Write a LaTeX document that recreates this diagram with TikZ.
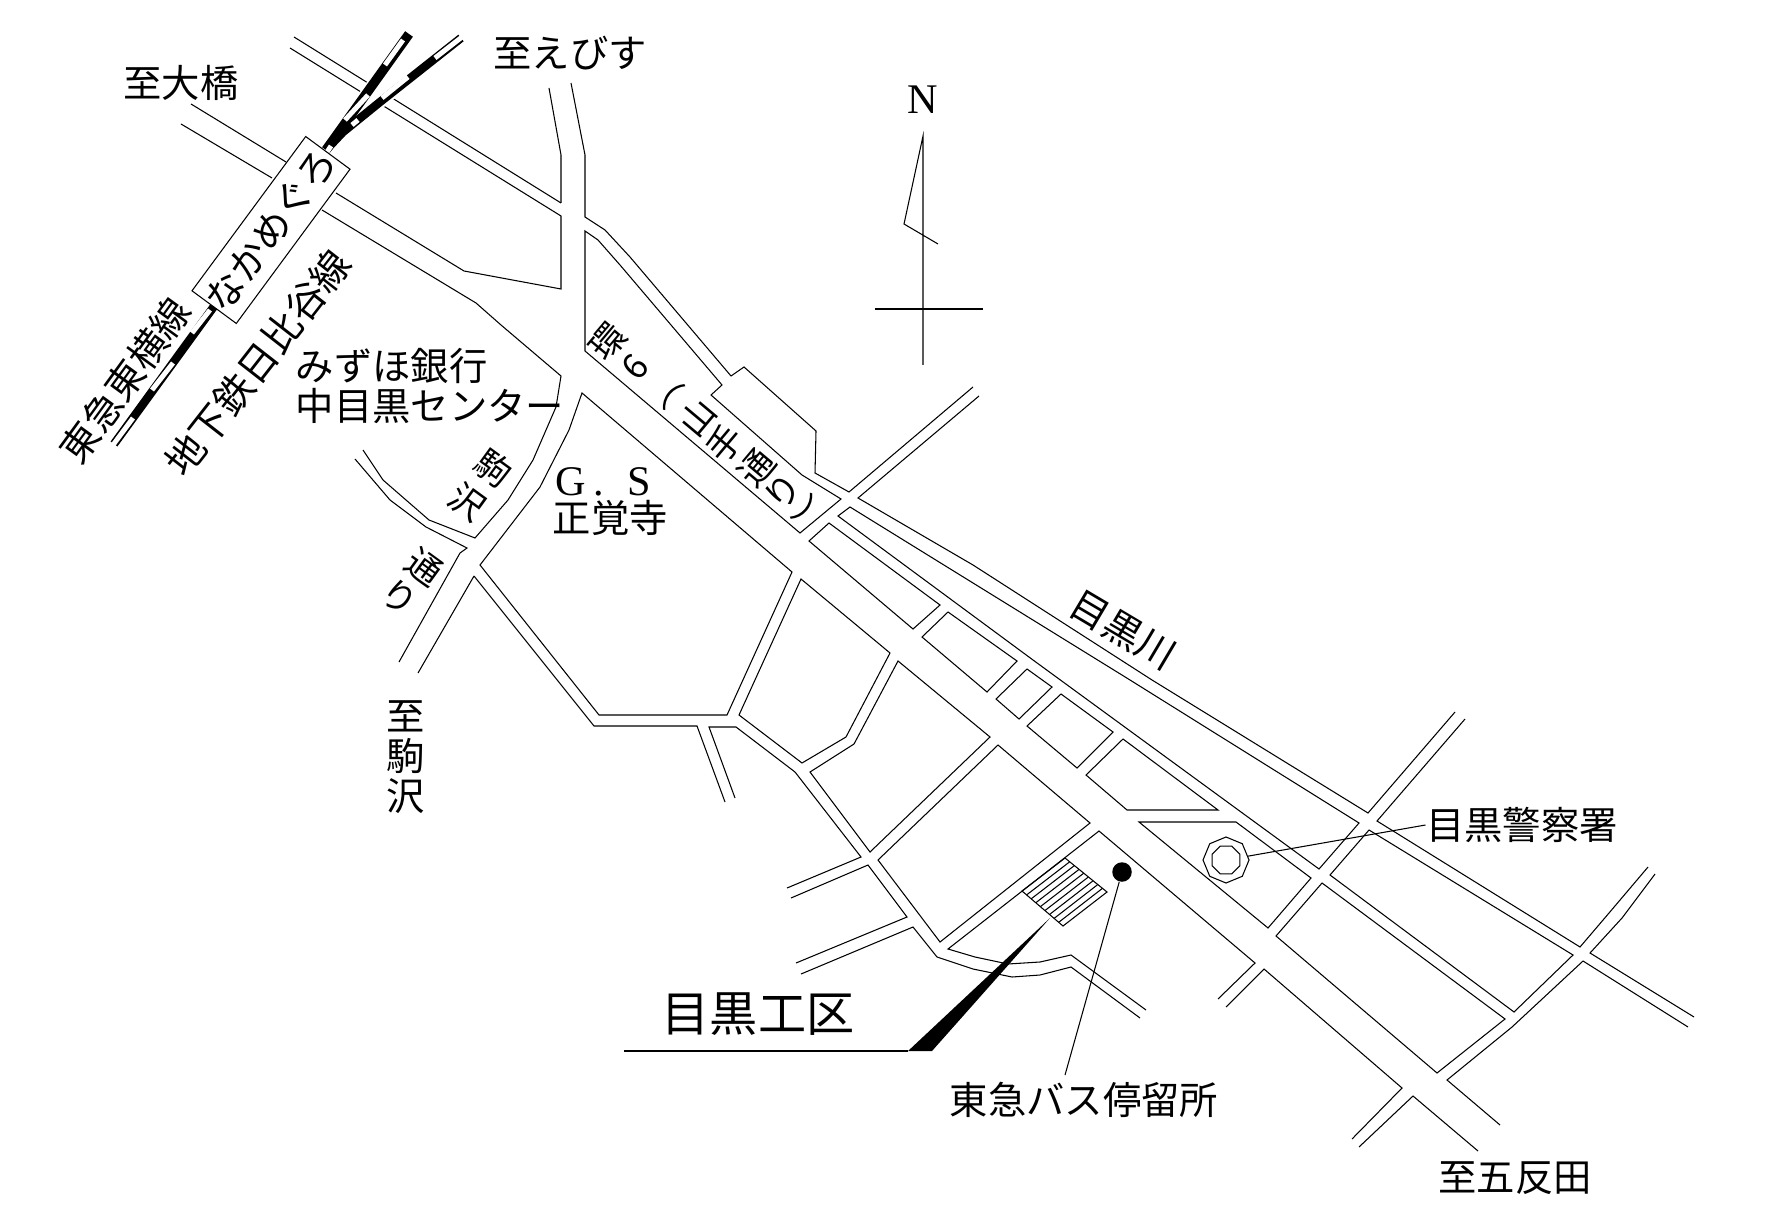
\documentclass[tikz,border=0pt]{standalone}
\usepackage{fontspec}
\usetikzlibrary{shapes.geometric}
\setmainfont{Liberation Serif}
\newfontfamily\cjk{Noto Sans CJK JP}
\def\jp{\cjk\fontsize{10.9pt}{11.3pt}\selectfont}
\def\tokyuline{(215,305) -- (114,444)}
\def\leftrail{(326,150) -- (409,34)}
\def\rightrail{(326,150) -- (343,132) -- (380,102) -- (461,38)}
\begin{document}
\begin{tikzpicture}[x=0.01cm,y=-0.01cm,
  road/.style={line width=0.3pt,line join=miter},
  label/.style={inner sep=0pt,font=\jp},
  vchar/.style={inner sep=0pt,font=\cjk\fontsize{10pt}{11pt}\selectfont},
  railbed/.style={white,line width=3.6pt},
  railedge/.style={black,line width=2.4pt},
  railslot/.style={white,line width=1.4pt}]
\useasboundingbox (0,0) rectangle (1777,1231);

% north arrow
\draw[road] (875,309) -- (983,309);
\draw[road] (923,365) -- (923,136) -- (904,224) -- (938,244);
\node[inner sep=0pt,font=\fontsize{12pt}{13pt}\selectfont] (north) at (923,100) {N};

% roads, upper left
\draw[road] (294,37) -- (561,203);
\draw[road] (549,88) -- (561,155) -- (561,203);
\draw[road] (290,48) -- (561,216) -- (561,289) -- (464,271) -- (336,193);
\draw[road] (191,104) -- (286,162);
\draw[road] (181,124) -- (272,178);
\draw[road] (322,210) -- (476,303) -- (501,325) -- (561,376) -- (556,407) -- (533,460) -- (508,500) -- (475,538) -- (429,520) -- (383,480) -- (363,450);
\draw[road] (355,459) -- (390,500) -- (426,527) -- (467,548) -- (460,553) -- (399,662);
\draw[road] (474,576) -- (418,673);
\draw[road] (582,393) -- (569,430) -- (540,487) -- (480,565) -- (599,715) -- (727,715) -- (792,572) -- cycle;

% yamate dori and the river road
\draw[road] (585,231) -- (585,351) -- (800,533) -- (841,499) -- (802,475) -- (711,395) -- (722,385) -- (620,265) -- (598,240) -- cycle;
\draw[road] (571,83) -- (585,155) -- (585,217) -- (605,230) -- (630,257) -- (731,376) -- (744,367) -- (816,431) -- (815,473) -- (849,492) -- (973,387);
\draw[road] (979,396) -- (858,498) -- (973,565) -- (1152,680) -- (1368,813) -- (1455,712);
\draw[road] (850,507) -- (838,516) -- (1033,660) -- (1319,869) -- (1359,823) -- (1130,680) -- cycle;
\draw[road] (1465,719) -- (1377,821) -- (1580,947) -- (1609,913) -- (1648,867);
\draw[road] (1369,830) -- (1573,955) -- (1514,1012) -- (1330,875) -- cycle;
\draw[road] (1694,1017) -- (1590,953) -- (1622,918) -- (1655,874);
\draw[road] (1688,1027) -- (1583,961) -- (1512,1027) -- (1447,1080) -- (1500,1125);
\draw[road] (1322,883) -- (1505,1019) -- (1437,1073) -- (1276,936) -- cycle;

% blocks along the main road
\draw[road] (829,523) -- (940,605) -- (913,629) -- (809,541) -- cycle;
\draw[road] (948,612) -- (1017,661) -- (987,692) -- (922,637) -- cycle;
\draw[road] (1027,669) -- (1052,687) -- (1019,719) -- (996,699) -- cycle;
\draw[road] (1061,694) -- (1113,732) -- (1077,768) -- (1027,726) -- cycle;
\draw[road] (1123,739) -- (1218,810) -- (1127,810) -- (1086,775) -- cycle;
\draw[road] (1139,822) -- (1236,822) -- (1311,878) -- (1268,928) -- cycle;

% south of the main road
\draw[road] (801,579) -- (890,653) -- (846,737) -- (802,763) -- (739,715) -- cycle;
\draw[road] (810,772) -- (854,744) -- (898,661) -- (990,737) -- (870,852) -- cycle;
\draw[road] (474,576) -- (594,726) -- (697,726) -- (725,802);
\draw[road] (735,798) -- (709,727) -- (736,727) -- (795,772) -- (861,857) -- (787,888);
\draw[road] (791,898) -- (868,865) -- (907,917) -- (796,963);
\draw[road] (801,974) -- (913,927) -- (937,957) -- (973,969) -- (1012,977) -- (1040,975) -- (1071,967) -- (1140,1018);
\draw[road] (1146,1010) -- (1071,955) -- (1040,962) -- (1008,964) -- (975,957) -- (948,949) -- (1099,831) -- (1255,963) -- (1218,999);
\draw[road] (878,860) -- (940,942) -- (1090,823) -- (998,745) -- cycle;
\draw[road] (1226,1007) -- (1264,969) -- (1402,1088) -- (1352,1139);
\draw[road] (1359,1147) -- (1413,1096) -- (1478,1151);

% building
\draw[road] (1022,891) -- (1065,858) -- (1107,892) -- (1063,926) -- cycle;
\foreach \t in {1,...,8}
  \draw[road] ({1022+4.6*\t},{891+3.9*\t}) -- ({1065+4.67*\t},{858+3.8*\t});

% railways
\fill[white] (345,130) -- (380,75) -- (398,88) -- cycle;
\draw[railbed] \leftrail;
\draw[railbed] \rightrail;
\draw[railedge,line width=2.7pt] \leftrail;
\draw[railedge] \rightrail;
\draw[railedge] \tokyuline;
\draw[railslot] (327,152) -- (331,146);
\draw[railslot] (345,120) -- (368,95);
\draw[railslot] (385,65) -- (403,40);
\draw[railslot] (352,125) -- (358,120);
\draw[railslot] (382,98) -- (408,77);
\draw[railslot] (435,58) -- (462,37);
\draw[railslot] (113,445) -- (133,418);
\draw[railslot] (152,390) -- (173,363);
\draw[railslot] (192,333) -- (210,310);

% station
\node[draw,road,fill=white,rotate=53.6,minimum width=1.85cm,minimum height=0.55cm,inner sep=0pt,font=\jp] (station) at (271,230) {なかめぐろ};

% office and its leader
\coordinate (wedgetip) at (1050,918);
\coordinate (wedgeleft) at (908,1051);
\coordinate (wedgeright) at (932,1051);
\coordinate (leaderend) at (624,1051);
\fill (wedgetip) -- (wedgeleft) -- (wedgeright) -- cycle;
\draw[road] (leaderend) -- (wedgeleft);
\node[inner sep=0pt,font=\cjk\fontsize{13.7pt}{15pt}\selectfont] (office) at (758,1014) {目黒工区};

% police
\node[draw,road,regular polygon,regular polygon sides=8,shape border rotate=22.5,minimum size=0.46cm,inner sep=0pt] (police) at (1226,860) {};
\node[draw,road,regular polygon,regular polygon sides=8,minimum size=0.30cm,inner sep=0pt] (policein) at (1226,860) {};
\node[label] (keisatsu) at (1522,825) {目黒警察署};
\draw[road] (police) -- (keisatsu.west);

% bus stop
\node[circle,fill=black,minimum size=0.195cm,inner sep=0pt] (busstop) at (1122,872) {};
\node[label] (teiryujo) at (1084,1100) {東急バス停留所};
\coordinate (busfoot) at (1065,1075);
\draw[road] (busstop) -- (busfoot);

% labels
\node[label] (ohashi) at (181,83) {至大橋};
\node[label] (ebisu) at (570,53) {至えびす};
\node[label,rotate=54] (toyoko) at (125,380) {東急東横線};
\node[label,rotate=52,font=\cjk\fontsize{11.1pt}{12pt}\selectfont] (hibiya) at (258,363) {地下鉄日比谷線};
\node[label,anchor=west] (mizuho) at (295,366) {みずほ銀行};
\node[label,anchor=west] (center) at (295,406) {中目黒センター};
\node[inner sep=0pt,anchor=west,font=\fontsize{12pt}{13pt}\selectfont] (gs) at (555,482) {G\,.\;\;S};
\node[label,anchor=west] (shokakuji) at (552,518) {正覚寺};
\node[label,align=center] (komazawa) at (406,757) {至\\駒\\沢};
\node[label,rotate=-30.7] (meguroriver) at (1123,630) {目黒川};
\node[label] (gotanda) at (1515,1178) {至五反田};

\foreach \ch/\xx/\yy [count=\i] in {環/608/342,6/635/367,︵/672/396,山/698/418,手/725/443,通/757/468,り/783/492,︶/812/515}
  \node[vchar,rotate=50] (yamate\i) at (\xx,\yy) {\ch};
\foreach \ch/\xx/\yy [count=\i] in {駒/494/468,沢/467/502,通/424/567,り/399/597}
  \node[vchar,rotate=-36] (koma\i) at (\xx,\yy) {\ch};
\end{tikzpicture}
\end{document}
